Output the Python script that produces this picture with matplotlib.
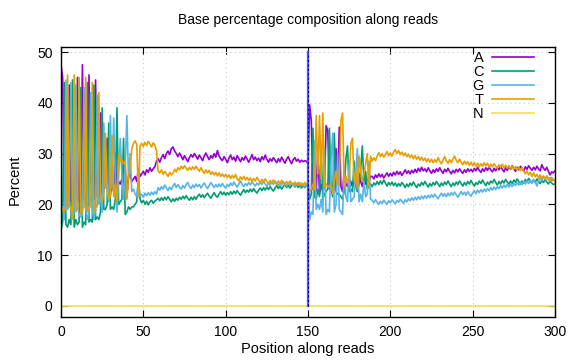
import numpy as np
import matplotlib.pyplot as plt

plt.rcParams['font.family'] = ['Liberation Sans', 'DejaVu Sans']

# Base composition (percent) per read position, 0..300
a_pct = [
    47.5, 45.0, 20.5, 20.0, 20.0, 43.5, 20.5, 21.0, 20.5, 21.0,
    45.0, 20.5, 21.5, 47.5, 21.0, 20.0, 20.5, 45.5, 21.5, 20.5,
    21.0, 44.5, 21.5, 21.0, 38.0, 22.0, 23.0, 23.5, 33.0, 22.5,
    22.0, 24.0, 22.5, 30.0, 22.0, 24.5, 24.0, 25.0, 23.5, 27.0,
    21.5, 25.5, 26.0, 24.5, 25.0,
    25.5, 24.5, 27.0, 25.5, 26.0, 26.5, 25.8, 26.8, 26.3, 27.2,
    26.5, 27.0, 27.4, 28.5, 29.0, 28.3, 29.2, 29.8, 29.0, 30.0,
    30.5, 29.8, 31.0, 31.3, 30.5, 30.0, 29.4, 30.1, 29.5, 28.8,
    29.6, 29.0, 28.4, 29.2, 29.8, 29.3, 30.0, 29.5, 28.9, 29.7,
    29.2, 28.6, 29.5, 30.1, 29.4, 28.8, 29.6, 29.1, 30.0, 29.3,
    30.6, 29.5, 29.0, 28.6, 29.4, 28.9, 28.2, 29.1, 29.7, 28.8,
    29.3, 28.5, 29.6, 29.0, 28.4, 29.2, 28.7, 29.5, 28.9, 28.3,
    29.0, 29.8, 28.8, 29.3, 28.6, 29.1, 28.4, 29.4, 28.8, 29.7,
    28.9, 28.3, 29.0, 28.5, 29.2, 28.7, 28.2, 29.0, 28.4, 29.3,
    28.7, 28.1, 28.9, 29.4, 28.6, 28.0, 28.8, 29.2, 28.5, 28.9,
    28.3, 28.7, 28.4, 28.6, 28.5, 28.0,
    39.6, 36.5, 23.0, 23.0, 22.5, 31.0, 22.0, 24.0, 22.5, 23.5,
    35.5, 34.5, 23.0, 24.0, 22.5, 23.0, 31.0, 24.0, 35.2, 23.5,
    22.5, 26.5, 24.0, 23.5, 25.0, 24.5, 23.5, 25.5, 24.0, 23.5,
    26.0, 24.5, 23.5, 25.5, 24.0, 25.0, 24.5, 25.5,
    25.5, 25.0, 25.8, 25.3, 26.0, 25.4, 25.9, 25.2, 25.7, 26.2,
    25.5, 26.1, 25.6, 26.3, 25.8, 26.5, 25.9, 26.4, 25.7, 26.2,
    26.8, 26.1, 26.6, 26.0, 26.7, 26.2, 26.9, 26.3, 27.1, 26.5,
    27.3, 26.6, 27.0, 26.4, 27.2, 26.6, 26.1, 26.8, 26.3, 27.0,
    26.5, 27.2, 26.6, 26.1, 26.9, 26.4, 27.1, 26.5, 26.0, 26.7,
    26.2, 26.9, 26.4, 27.0, 26.5, 26.1, 26.8, 26.3, 27.0, 26.5,
    26.9, 26.4, 27.1, 26.6, 27.3, 26.7, 26.3, 27.0, 26.5, 27.2,
    26.7, 27.4, 26.8, 26.4, 27.1, 26.6, 27.3, 26.8, 27.5, 26.9,
    26.4, 27.2, 26.7, 27.4, 26.9, 27.6, 27.0, 26.5, 27.3, 26.8,
    27.5, 27.0, 26.6, 27.4, 26.9, 27.6, 27.1, 26.7, 27.3, 26.8,
    27.5, 27.0, 26.6, 27.8, 27.1, 26.7, 27.3, 26.5, 25.8, 26.4,
    26.2, 26.6,
]

c_pct = [
    15.0, 16.5, 44.0, 16.0, 15.5, 17.0, 16.0, 44.5, 15.5, 17.0,
    16.0, 16.5, 43.0, 15.5, 16.5, 16.0, 44.0, 16.5, 17.0, 16.5,
    43.5, 17.0, 17.5, 17.0, 18.5, 39.0, 19.0, 19.0, 20.0, 36.0,
    19.0, 19.5, 19.0, 21.0, 39.0, 20.0, 20.5, 21.0, 33.0, 18.0,
    18.5, 19.5, 19.0, 19.5, 19.5,
    20.0, 20.5, 25.5, 21.0, 20.3, 20.8, 20.0, 20.6, 19.9, 20.5,
    20.8, 20.2, 20.6, 20.9, 21.2, 20.7, 21.3, 20.8, 21.4, 20.9,
    21.5, 21.0, 20.5, 21.1, 20.6, 21.2, 20.8, 21.4, 21.0, 21.6,
    21.1, 21.7, 21.2, 20.8, 21.4, 20.9, 21.5, 21.0, 21.6, 22.0,
    21.4, 21.9, 21.3, 21.8, 22.2, 21.6, 21.2, 21.8, 22.3, 21.7,
    21.4, 22.0, 22.5, 21.9, 22.4, 21.8, 22.3, 21.9, 22.5, 22.0,
    22.6, 22.1, 22.7, 22.2, 21.8, 22.4, 22.9, 22.3, 22.8, 22.4,
    23.0, 22.5, 23.1, 22.6, 22.2, 22.8, 23.2, 22.7, 23.3, 22.8,
    23.4, 22.9, 23.5, 23.0, 22.6, 23.2, 23.7, 23.1, 23.6, 23.0,
    23.5, 23.9, 23.3, 23.8, 23.2, 23.7, 24.1, 23.4, 23.9, 23.3,
    23.8, 23.2, 23.7, 23.3, 23.8, 23.4,
    21.0, 22.0, 35.0, 21.5, 21.0, 23.0, 21.5, 30.0, 21.0, 22.0,
    22.5, 23.0, 35.0, 23.0, 21.5, 34.0, 22.5, 22.0, 22.0, 21.5,
    21.0, 22.5, 29.0, 31.5, 22.5, 23.0, 22.5, 28.5, 23.5, 22.5,
    24.0, 27.0, 31.5, 24.0, 26.5, 23.0, 23.5, 24.0,
    23.5, 24.2, 23.8, 24.5, 23.9, 24.6, 24.0, 24.8, 24.2, 23.6,
    24.3, 23.8, 24.4, 23.7, 24.2, 23.5, 24.1, 23.6, 24.3, 23.9,
    23.3, 24.0, 23.5, 24.2, 23.7, 24.4, 23.8, 23.3, 24.0, 23.6,
    24.3, 23.8, 24.5, 23.9, 23.4, 24.1, 23.6, 24.3, 23.8, 24.5,
    24.0, 23.5, 24.2, 23.7, 24.4, 23.9, 24.6, 24.0, 23.5, 24.2,
    23.7, 24.4, 23.9, 24.6, 24.1, 23.6, 24.3, 23.8, 24.5, 24.0,
    24.7, 24.1, 23.6, 24.3, 23.9, 24.6, 24.1, 24.8, 24.2, 23.7,
    24.4, 23.9, 24.6, 24.2, 24.9, 24.3, 23.8, 24.5, 24.0, 24.7,
    24.2, 24.9, 24.4, 24.0, 24.6, 24.1, 24.8, 24.3, 25.0, 24.5,
    24.0, 24.6, 24.2, 24.9, 24.4, 25.1, 24.6, 24.2, 24.8, 24.3,
    25.0, 24.5, 24.1, 24.7, 24.3, 24.9, 24.4, 24.0, 24.6, 24.2,
    23.9, 24.0,
]

g_pct = [
    19.0, 19.5, 17.0, 44.5, 19.0, 20.0, 44.0, 17.5, 18.5, 43.5,
    19.5, 18.0, 17.5, 18.0, 43.0, 19.0, 17.0, 18.5, 42.0, 19.0,
    17.0, 19.0, 41.5, 20.0, 21.5, 18.5, 36.0, 23.5, 23.0, 20.5,
    37.5, 23.0, 37.0, 25.0, 18.5, 25.5, 33.0, 25.5, 21.0, 27.0,
    37.5, 25.0, 30.0, 22.5, 23.0,
    22.0, 21.5, 24.0, 21.6, 22.0, 21.4, 22.2, 21.7, 22.3, 21.8,
    22.4, 21.9, 22.5, 22.0, 23.3, 22.8, 23.5, 23.0, 23.8, 23.2,
    22.7, 23.4, 22.9, 23.6, 24.1, 23.3, 23.9, 23.4, 23.0, 23.7,
    23.2, 23.9, 24.3, 23.5, 23.1, 23.8, 23.3, 24.0, 23.5, 23.9,
    23.2, 23.8, 24.2, 23.6, 23.1, 23.7, 24.3, 23.8, 23.3, 23.9,
    23.4, 24.0, 23.5, 24.1, 23.6, 23.2, 23.9, 23.5, 24.2, 23.7,
    24.4, 23.8, 23.4, 24.0, 24.6, 23.9, 23.5, 24.1, 23.7, 24.3,
    23.8, 24.5, 24.0, 23.6, 24.2, 23.8, 24.4, 23.9, 24.5, 24.0,
    23.5, 24.2, 23.8, 24.4, 23.9, 24.6, 24.1, 23.7, 24.3, 23.8,
    24.5, 24.0, 23.6, 24.2, 23.7, 24.3, 23.9, 23.5, 24.1, 23.7,
    24.2, 23.6, 24.0, 23.5, 23.9, 23.6,
    17.0, 18.5, 18.0, 32.5, 19.0, 20.0, 19.0, 21.0, 18.5, 31.0,
    18.0, 19.0, 18.5, 29.0, 34.0, 18.5, 20.0, 30.0, 19.0, 18.5,
    18.0, 27.5, 21.5, 20.5, 28.0, 20.5, 21.0, 21.5, 26.0, 31.0,
    20.5, 22.0, 20.5, 24.5, 21.5, 22.0, 28.5, 21.0,
    20.8, 20.3, 20.9, 20.4, 20.0, 20.6, 20.2, 20.8, 20.4, 20.0,
    20.7, 20.3, 20.9, 20.5, 20.1, 20.8, 20.4, 21.0, 20.6, 20.2,
    20.9, 20.5, 21.1, 20.7, 21.3, 20.8, 21.4, 20.9, 21.5, 21.0,
    21.6, 21.1, 21.7, 21.2, 21.8, 21.3, 21.9, 21.4, 22.0, 21.5,
    21.1, 21.7, 22.2, 21.6, 22.1, 21.5, 22.2, 21.7, 22.3, 21.8,
    22.4, 21.9, 21.4, 22.0, 22.5, 21.9, 22.4, 21.8, 22.5, 22.0,
    21.6, 22.2, 22.7, 22.1, 22.8, 22.3, 22.9, 22.4, 23.0, 22.5,
    23.1, 22.7, 23.3, 22.8, 23.4, 22.9, 23.5, 23.1, 23.7, 23.2,
    23.8, 23.3, 23.9, 23.4, 24.0, 23.5, 24.1, 23.7, 24.3, 23.8,
    24.4, 23.9, 24.5, 24.0, 24.6, 24.1, 24.8, 24.2, 24.9, 24.4,
    23.6, 24.6, 25.2, 24.7, 25.4, 24.9, 25.6, 25.1, 24.6, 25.3,
    24.8, 24.5,
]

t_pct = [
    18.5, 19.0, 18.5, 19.5, 45.5, 19.5, 19.5, 17.0, 45.5, 18.5,
    19.5, 45.0, 18.0, 19.0, 19.5, 45.0, 18.5, 19.5, 19.5, 44.0,
    18.5, 19.5, 19.5, 42.0, 22.0, 20.5, 22.0, 34.0, 24.0, 21.0,
    21.5, 33.5, 21.5, 24.0, 20.5, 30.0, 28.5, 28.8, 28.0, 28.5,
    21.0, 25.5, 27.0, 31.0, 32.0,
    32.5, 31.8, 21.5, 31.5, 32.0, 31.4, 32.2, 31.6, 32.4, 31.9,
    31.3, 32.1, 31.7, 30.5, 26.5, 26.2, 26.8, 25.9, 26.5, 26.0,
    25.5, 26.3, 25.8, 26.1, 26.9, 26.4, 27.2, 26.8, 27.5, 27.0,
    27.6, 27.1, 26.7, 27.3, 26.8, 27.4, 26.9, 27.5, 27.0, 26.5,
    27.2, 26.6, 26.1, 26.8, 26.2, 26.7, 25.9, 26.4, 25.8, 26.3,
    25.6, 26.2, 25.5, 26.0, 25.4, 25.9, 25.3, 25.8, 25.1, 25.7,
    25.2, 25.9, 25.0, 24.6, 25.4, 24.9, 25.5, 24.8, 25.3, 24.7,
    25.2, 24.5, 25.1, 24.6, 25.3, 24.8, 24.2, 24.9, 24.4, 25.0,
    24.5, 24.0, 24.7, 24.2, 24.8, 24.3, 23.9, 24.6, 24.1, 24.7,
    24.2, 23.8, 24.5, 24.0, 24.6, 24.1, 23.7, 24.4, 23.9, 24.3,
    23.8, 24.2, 23.7, 24.3, 23.9, 24.2,
    22.4, 23.0, 24.0, 23.0, 37.5, 26.0, 37.5, 25.0, 38.0, 23.5,
    24.0, 23.5, 23.5, 24.0, 22.0, 24.5, 26.5, 24.0, 23.8, 36.5,
    38.0, 23.5, 25.5, 24.5, 24.5, 32.0, 33.0, 24.5, 26.5, 23.0,
    29.5, 26.5, 24.5, 26.0, 28.0, 30.0, 23.5, 29.5,
    28.5, 29.2, 28.6, 29.5, 30.2, 29.4, 30.0, 29.3, 29.8, 30.4,
    29.6, 30.1, 29.5, 30.3, 30.8, 30.0, 30.6, 29.8, 30.3, 29.6,
    30.1, 29.4, 29.9, 29.2, 29.7, 29.0, 29.6, 28.9, 29.4, 28.7,
    29.3, 28.6, 29.1, 28.4, 29.0, 28.3, 28.9, 28.2, 28.8, 28.3,
    29.2, 28.5, 28.0, 28.7, 29.4, 28.6, 28.1, 28.8, 28.2, 28.9,
    29.5, 28.7, 28.2, 28.9, 28.3, 27.8, 28.5, 27.9, 28.4, 27.7,
    28.3, 27.6, 28.2, 27.5, 28.1, 27.4, 28.0, 27.5, 28.2, 27.6,
    28.1, 27.3, 27.9, 27.4, 28.0, 27.5, 27.1, 27.8, 27.3, 27.9,
    27.2, 27.7, 27.1, 27.6, 27.0, 27.5, 26.9, 27.4, 26.8, 27.3,
    26.6, 27.2, 26.5, 26.0, 26.6, 25.8, 26.3, 25.5, 26.2, 25.4,
    25.9, 25.2, 25.8, 25.1, 25.6, 25.0, 25.5, 24.8, 25.3, 24.6,
    25.0, 24.5,
]

# N is zero along the whole read
n_pct = [0.0] * len(a_pct)

read_boundary = 150

positions = np.arange(len(a_pct))

fig = plt.figure(figsize=(5.76, 3.6), dpi=100)
ax = fig.add_axes([61 / 576, 1 - 317 / 360, (555 - 61) / 576, (317 - 47) / 360])

ax.plot(positions, a_pct, color='#9400d3', lw=1.2, label='A')
ax.plot(positions, c_pct, color='#009e73', lw=1.2, label='C')
ax.plot(positions, g_pct, color='#56b4e9', lw=1.2, label='G')
ax.plot(positions, t_pct, color='#e69f00', lw=1.2, label='T')
ax.plot(positions, n_pct, color='#f0e442', lw=1.2, label='N')

# boundary between first and second read
ax.plot([read_boundary, read_boundary], [0, 50], color='#5050ff', lw=1.6)
ax.plot([read_boundary, read_boundary], [0, 50], color='#0000b0', lw=0.8, dashes=(2, 2))

ax.set_xlim(0, 300)
ax.set_ylim(-2.2, 51)
ax.set_xticks(range(0, 301, 50))
ax.set_yticks(range(0, 51, 10))
ax.tick_params(direction='in', top=True, right=True, length=5, labelsize=10, pad=6)
ax.grid(True, color='#c8c8c8', linestyle=(0, (1, 3)), lw=0.8)
for s in ax.spines.values():
    s.set_linewidth(1.0)

leg = ax.legend(loc='upper right', bbox_to_anchor=(0.965, 1.0), frameon=False,
                markerfirst=False, handlelength=2.9, handletextpad=0.55,
                labelspacing=0.0, borderaxespad=0.1, borderpad=0.15, fontsize=10.5)
for txt in leg.get_texts():
    txt.set_ha('right')

fig.text(308 / 576, 1 - 20 / 360, 'Base percentage composition along reads',
         ha='center', va='center', fontsize=10)
fig.text(308 / 576, 1 - 349 / 360, 'Position along reads', ha='center', va='center', fontsize=10.5)
fig.text(15 / 576, 1 - 180 / 360, 'Percent', ha='center', va='center', rotation=90, fontsize=10.5)

fig.savefig('out.png', dpi=100)
